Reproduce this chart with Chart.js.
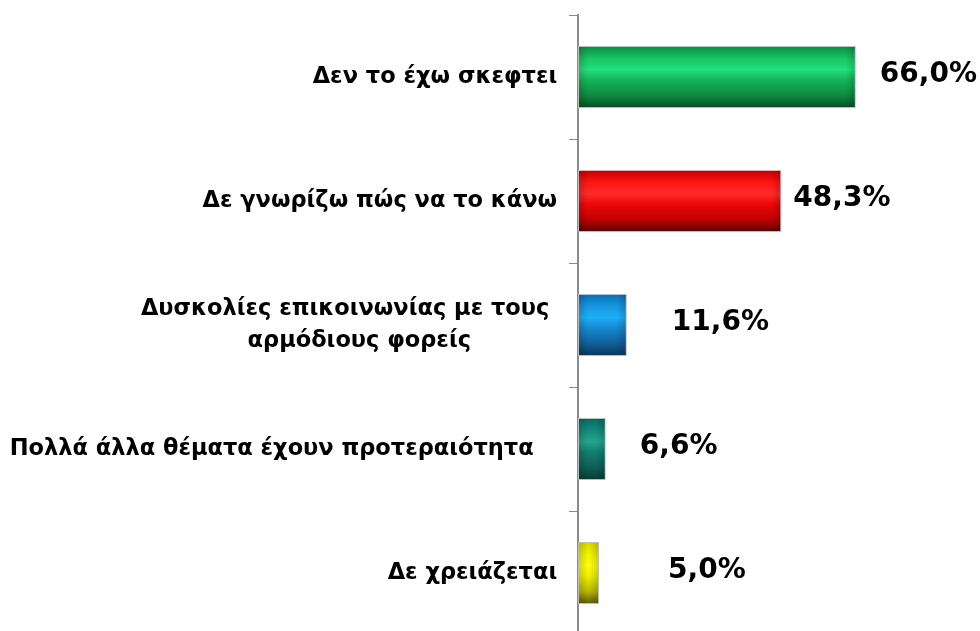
<!DOCTYPE html>
<html>
<head>
<meta charset="utf-8">
<script src="https://cdn.jsdelivr.net/npm/chart.js@4.4.1/dist/chart.umd.min.js"></script>
<style>
  html, body { margin: 0; padding: 0; background: #ffffff; overflow: hidden; }
  #wrap { position: relative; width: 980px; height: 635px; }
</style>
</head>
<body>
<div id="wrap"><canvas id="c" width="980" height="635"></canvas></div>
<script>
// ---- data ----
const categories = [
  "Δεν το έχω σκεφτει ",
  "Δε γνωρίζω πώς να το κάνω ",
  ["Δυσκολίες επικοινωνίας με τους  ", "αρμόδιους φορείς            "],
  "Πολλά άλλα θέματα έχουν προτεραιότητα    ",
  "Δε χρειάζεται "
];
const values = [66.0, 48.3, 11.6, 6.6, 5.0];
const valueLabels = ["66,0%", "48,3%", "11,6%", "6,6%", "5,0%"];

// ---- styling ----
const barPalettes = [
  ["#0b8a42", "#17c463", "#22e07c", "#15b458", "#0c8a40", "#054d22"],
  ["#c00000", "#ff1414", "#ff2a2a", "#ee0808", "#c00000", "#600000"],
  ["#0a6fb5", "#1796e0", "#1ab0f5", "#1488d0", "#0e5f98", "#0a3558"],
  ["#0a6a5e", "#128a7a", "#23a68e", "#12806f", "#0c5f55", "#073a35"],
  ["#d8d800", "#f4f400", "#ffff10", "#f0f000", "#b8b800", "#5c5a00"]
];
const labelOffsets = [24, 12, 45, 34, 69];

function barGradient(ctx) {
  const chart = ctx.chart;
  const area = chart.chartArea;
  const i = ctx.dataIndex;
  const pal = barPalettes[i];
  if (!area || !chart.scales.y) return pal[1];
  const yc = chart.scales.y.getPixelForValue(i);
  const h = (area.bottom - area.top) / categories.length * 0.5;
  const g = chart.ctx.createLinearGradient(0, yc - h / 2, 0, yc + h / 2);
  g.addColorStop(0.0, pal[0]);
  g.addColorStop(0.2, pal[1]);
  g.addColorStop(0.38, pal[2]);
  g.addColorStop(0.55, pal[3]);
  g.addColorStop(0.8, pal[4]);
  g.addColorStop(1.0, pal[5]);
  return g;
}

// darken the left / right ends of each bar slightly (cylinder look)
const barShadePlugin = {
  id: 'barShade',
  afterDatasetsDraw(chart) {
    const ctx = chart.ctx;
    const meta = chart.getDatasetMeta(0);
    ctx.save();
    meta.data.forEach((bar) => {
      const left = bar.base, right = bar.x;
      const top = bar.y - bar.height / 2, h = bar.height;
      const w = right - left;
      if (w <= 2) return;
      const g = ctx.createLinearGradient(left, 0, right, 0);
      const e = Math.min(0.5, 10 / w);
      g.addColorStop(0, 'rgba(0,0,0,0.18)');
      g.addColorStop(e, 'rgba(0,0,0,0)');
      g.addColorStop(1 - e, 'rgba(0,0,0,0)');
      g.addColorStop(1, 'rgba(0,0,0,0.18)');
      ctx.fillStyle = g;
      ctx.fillRect(left + 1, top + 1, w - 2, h - 2);
    });
    ctx.restore();
  }
};

const valueLabelPlugin = {
  id: 'valueLabels',
  afterDatasetsDraw(chart) {
    const ctx = chart.ctx;
    const meta = chart.getDatasetMeta(0);
    ctx.save();
    ctx.font = 'bold 28px "DejaVu Sans"';
    ctx.fillStyle = '#000000';
    ctx.textAlign = 'left';
    ctx.textBaseline = 'middle';
    meta.data.forEach((bar, i) => {
      ctx.fillText(valueLabels[i], bar.x + labelOffsets[i], bar.y - 2);
    });
    ctx.restore();
  }
};

new Chart(document.getElementById('c'), {
  type: 'bar',
  data: {
    labels: categories,
    datasets: [{
      data: values,
      backgroundColor: barGradient,
      borderColor: '#bdbdbd',
      borderWidth: 1,
      borderSkipped: false,
      barPercentage: 0.5,
      categoryPercentage: 1.0
    }]
  },
  options: {
    indexAxis: 'y',
    responsive: false,
    animation: false,
    layout: { padding: { top: 15, right: 0, bottom: 0, left: 0 } },
    plugins: { legend: { display: false }, tooltip: { enabled: false } },
    scales: {
      x: { display: false, min: 0, max: 95.5 },
      y: {
        offset: true,
        afterFit(scale) { scale.width = 578; scale.paddingTop = 0; scale.paddingBottom = 0; },
        border: { display: true, color: '#8c8c8c', width: 2 },
        grid: { display: true, drawOnChartArea: false, drawTicks: true, tickLength: 9, color: '#8c8c8c', lineWidth: 1, offset: true },
        ticks: {
          color: '#000000',
          padding: 4,
          font: { family: '"DejaVu Sans"', size: 22.5, weight: 'bold', lineHeight: 1.42 }
        }
      }
    }
  },
  plugins: [barShadePlugin, valueLabelPlugin]
});
</script>
</body>
</html>
